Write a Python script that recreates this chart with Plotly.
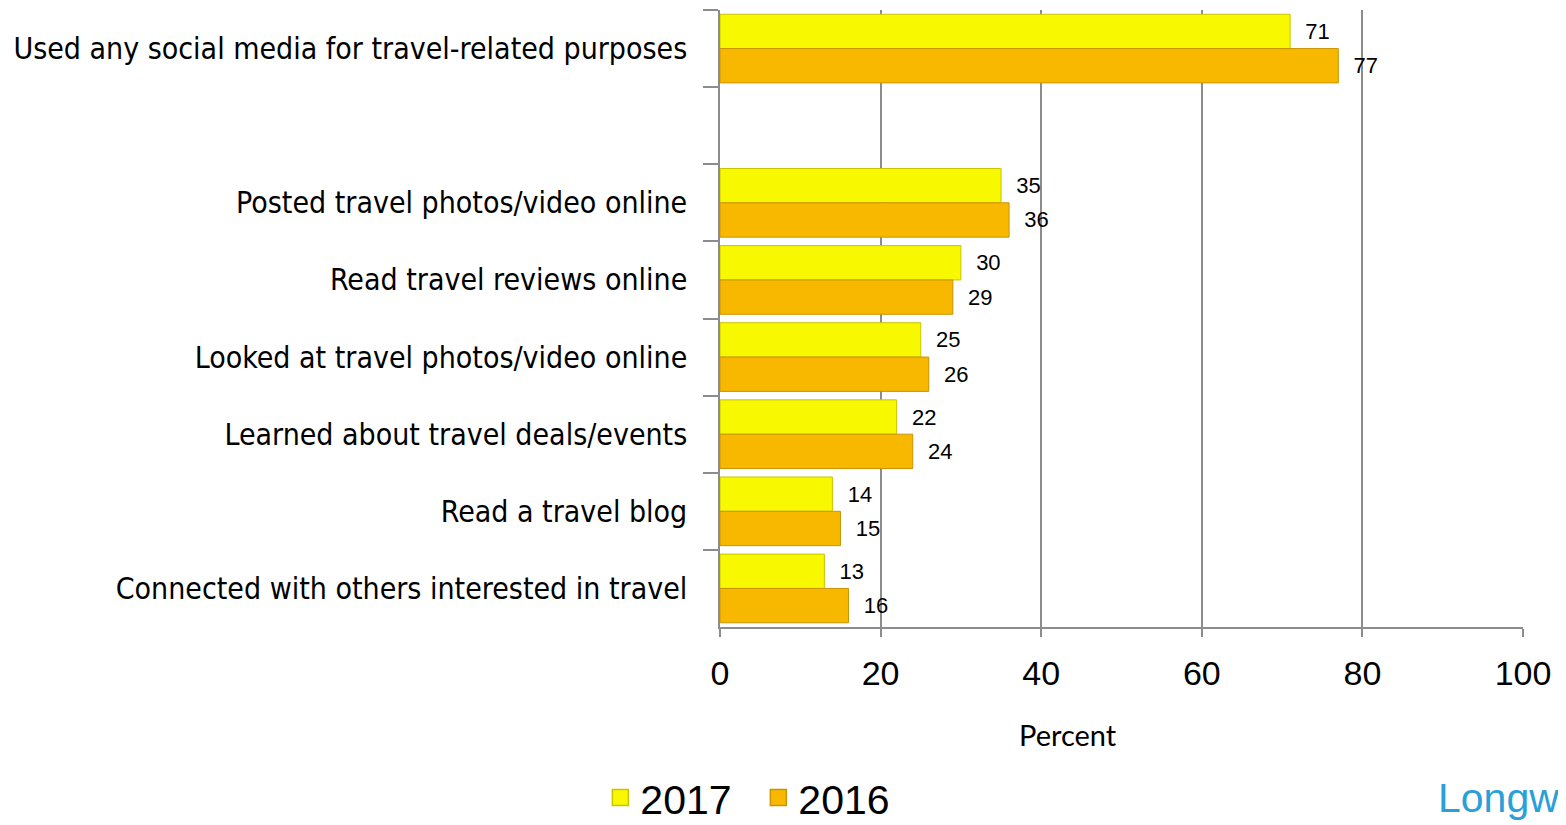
import plotly.graph_objects as go

categories = [
    "Used any social media for travel-related purposes",
    "Posted travel photos/video online",
    "Read travel reviews online",
    "Looked at travel photos/video online",
    "Learned about travel deals/events",
    "Read a travel blog",
    "Connected with others interested in travel",
]
values_2017 = [71, 35, 30, 25, 22, 14, 13]
values_2016 = [77, 36, 29, 26, 24, 15, 16]
x_ticks = [0, 20, 40, 60, 80, 100]

spacer = " "
category_order = [categories[0], spacer] + categories[1:]

label_font = dict(family="Liberation Sans, Arial, sans-serif", size=22, color="black")
c2017, l2017 = "#F8F800", "#C9C400"
c2016, l2016 = "#F8B800", "#C99400"

fig = go.Figure()
fig.add_trace(go.Bar(
    name="2017", y=categories, x=values_2017, orientation="h",
    marker=dict(color=c2017, line=dict(color=l2017, width=1)),
    text=values_2017, texttemplate="  %{x}", textposition="outside",
    textfont=label_font, cliponaxis=False, showlegend=False,
))
fig.add_trace(go.Bar(
    name="2016", y=categories, x=values_2016, orientation="h",
    marker=dict(color=c2016, line=dict(color=l2016, width=1)),
    text=values_2016, texttemplate="  %{x}", textposition="outside",
    textfont=label_font, cliponaxis=False, showlegend=False,
))
# legend entries with larger square swatches
for name, c, lc, rank in [("2017", c2017, l2017, 1), ("2016", c2016, l2016, 2)]:
    fig.add_trace(go.Scatter(
        name=name, x=[None], y=[None], mode="markers",
        marker=dict(symbol="square", size=22, color=c, line=dict(color=lc, width=1.5)),
        legendrank=rank, hoverinfo="skip",
    ))

fig.update_layout(
    width=1558, height=817,
    margin=dict(l=712, r=43, t=2, b=198, autoexpand=False),
    paper_bgcolor="white", plot_bgcolor="white",
    barmode="group", bargap=0.11, bargroupgap=0,
    showlegend=True,
    legend=dict(orientation="h", x=-0.149, xanchor="left", y=-0.277, yanchor="middle",
                font=dict(family="Liberation Sans, Arial, sans-serif", size=41, color="black"),
                entrywidth=113, itemwidth=30, traceorder="normal"),
    xaxis=dict(range=[0, 100], tickvals=x_ticks, showgrid=True, gridcolor="#8c8c8c", gridwidth=1.5,
               showline=True, linecolor="#8c8c8c", linewidth=1.5, automargin=False,
               ticks="outside", ticklen=8, tickcolor="#8c8c8c", tickwidth=1.5,
               ticklabelstandoff=7,
               tickfont=dict(family="Liberation Sans, Arial, sans-serif", size=34, color="black"),
               zeroline=False),
    yaxis=dict(type="category", categoryarray=category_order, categoryorder="array",
               autorange="reversed", showgrid=False, showline=True, linecolor="#8c8c8c", linewidth=1.5,
               automargin=False,
               ticks="outside", tickson="boundaries", ticklen=15, tickcolor="#8c8c8c", tickwidth=1.5,
               ticklabelstandoff=25,
               tickfont=dict(family="Liberation Sans Narrow, DejaVu Sans Condensed, sans-serif", size=30, color="black")),
)

fig.add_annotation(text="Percent", xref="paper", yref="paper", x=0.433, y=-0.175,
                   xanchor="center", yanchor="middle", showarrow=False,
                   font=dict(family="Lato, Open Sans, sans-serif", size=29, color="black"))

fig.add_annotation(text="Longw", xref="paper", yref="paper", x=1.047, y=-0.277,
                   xanchor="right", yanchor="middle", showarrow=False,
                   font=dict(family="Liberation Sans, Arial, sans-serif", size=41, color="#2A9FD8"))

fig.write_html("out.html")
